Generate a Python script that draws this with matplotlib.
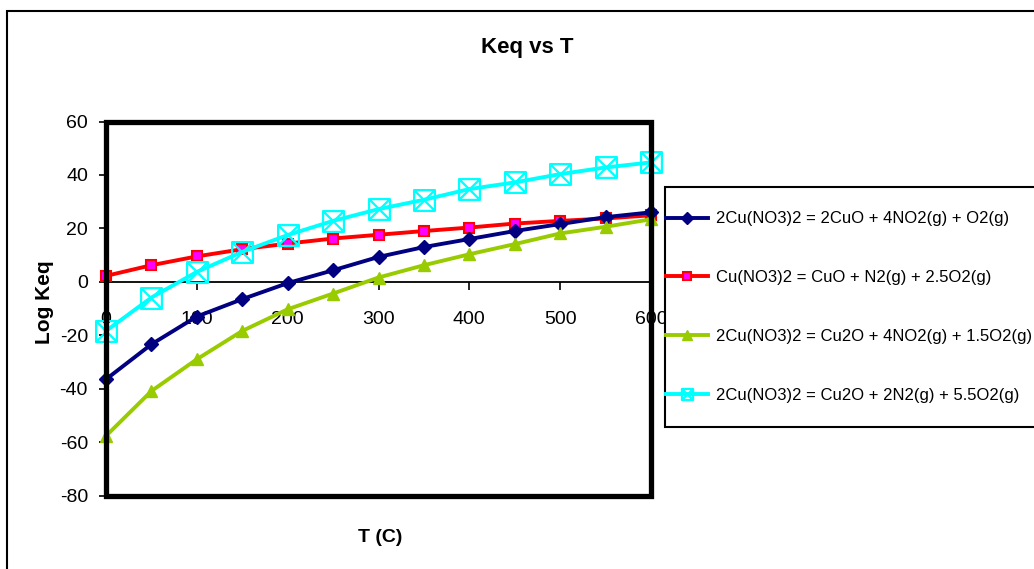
import matplotlib
matplotlib.use("Agg")
import matplotlib.pyplot as plt
from matplotlib.path import Path
from matplotlib.patches import Rectangle

plt.rcParams['font.family'] = ['Liberation Sans', 'DejaVu Sans']
plt.rcParams['axes.unicode_minus'] = False

# ---- data ----
temps = [0, 50, 100, 150, 200, 250, 300, 350, 400, 450, 500, 550, 600]
rxn1 = [-36.5, -23.4, -13.0, -6.5, -0.5, 4.3, 9.3, 13.0, 16.0, 19.0, 21.6, 24.2, 26.0]
rxn2 = [2.2, 6.2, 9.5, 12.2, 14.3, 16.2, 17.6, 19.0, 20.3, 21.8, 22.8, 23.7, 24.9]
rxn3 = [-57.7, -40.9, -29.0, -18.4, -10.3, -4.4, 1.6, 6.2, 10.3, 14.1, 18.1, 20.6, 23.4]
rxn4 = [-18.4, -5.9, 3.7, 11.2, 17.5, 22.8, 27.2, 30.7, 34.7, 37.2, 40.3, 42.8, 44.7]
labels = [
    "2Cu(NO3)2 = 2CuO + 4NO2(g) + O2(g)",
    "Cu(NO3)2 = CuO + N2(g) + 2.5O2(g)",
    "2Cu(NO3)2 = Cu2O + 4NO2(g) + 1.5O2(g)",
    "2Cu(NO3)2 = Cu2O + 2N2(g) + 5.5O2(g)",
]
xticks = [0, 100, 200, 300, 400, 500, 600]
yticks = [-80, -60, -40, -20, 0, 20, 40, 60]

W, H = 1034, 569
fig = plt.figure(figsize=(W / 100, H / 100), dpi=100)
fig.patch.set_facecolor('white')

def fx(px):
    return px / W

def fy(py):
    return 1 - py / H

ax = fig.add_axes([fx(106), fy(495.5), fx(651) - fx(106), fy(121.5) - fy(495.5)])
ax.set_xlim(0, 600)
ax.set_ylim(-80, 60)

# square-with-X marker
box_x = Path([(-1, -1), (1, -1), (1, 1), (-1, 1), (-1, -1), (-1, -1), (1, 1), (-1, 1), (1, -1)],
             [Path.MOVETO, Path.LINETO, Path.LINETO, Path.LINETO, Path.CLOSEPOLY,
              Path.MOVETO, Path.LINETO, Path.MOVETO, Path.LINETO])

lw = 2.8
l1, = ax.plot(temps, rxn1, color='#000080', lw=lw, marker='D', ms=7,
              mfc='#000080', mec='#000080', clip_on=False, zorder=4)
l2, = ax.plot(temps, rxn2, color='#FF0000', lw=lw, marker='s', ms=6.5,
              mfc='#FF00FF', mec='#FF0000', mew=1.5, clip_on=False, zorder=3)
l3, = ax.plot(temps, rxn3, color='#99CC00', lw=lw, marker='^', ms=9,
              mfc='#99CC00', mec='#99CC00', clip_on=False, zorder=4)
l4, = ax.plot(temps, rxn4, color='#00FFFF', lw=lw, marker=box_x, ms=15,
              mfc='none', mec='#00FFFF', mew=1.6, clip_on=False, zorder=5)

# axes styling: thick frame, thin x-axis at zero
for s in ['top', 'right', 'left']:
    ax.spines[s].set_visible(False)
ax.spines['bottom'].set_position(('data', 0))
ax.spines['bottom'].set_linewidth(1.3)
ax.spines['bottom'].set_zorder(1)
frame = Rectangle((0, 0), 1, 1, transform=ax.transAxes, fill=False,
                  ec='black', lw=3.8, clip_on=False, zorder=6)
ax.add_patch(frame)

ax.set_xticks(xticks)
ax.set_yticks(yticks)
ax.tick_params(axis='x', direction='out', length=6, width=1.2, pad=15, labelsize=14)
ax.tick_params(axis='y', direction='out', length=5, width=1.2, pad=8, labelsize=14)

fig.text(fx(527), fy(48), "Keq vs T", fontsize=16, fontweight='bold', ha='center', va='center')
fig.text(fx(380), fy(538), "T (C)", fontsize=14, fontweight='bold', ha='center', va='center')
fig.text(fx(45), fy(302), "Log Keq", fontsize=15, fontweight='bold', ha='center', va='center',
         rotation=90)

# outer chart border
fig.add_artist(Rectangle((fx(7), fy(H + 20)), fx(W + 30), fy(11) - fy(H + 20),
                         transform=fig.transFigure, fill=False, ec='black', lw=1.5))

# legend box
fig.add_artist(Rectangle((fx(665), fy(427)), fx(W + 30) - fx(665), fy(187) - fy(427),
                         transform=fig.transFigure, fill=True, fc='white', ec='black', lw=1.5,
                         zorder=3))
leg = fig.legend([l1, l2, l3, l4], labels, loc='upper left',
                 bbox_to_anchor=(fx(663), fy(208)), frameon=False, fontsize=12,
                 handlelength=2.5, handletextpad=0.45, labelspacing=2.63,
                 borderpad=0.2, borderaxespad=0, markerscale=1.0, numpoints=1)
leg.set_zorder(4)
leg.legend_handles[3].set_markersize(8)
leg.legend_handles[2].set_markersize(7)
leg.legend_handles[1].set_markersize(6)
leg.legend_handles[0].set_markersize(6)

fig.savefig("out.png", dpi=100)
